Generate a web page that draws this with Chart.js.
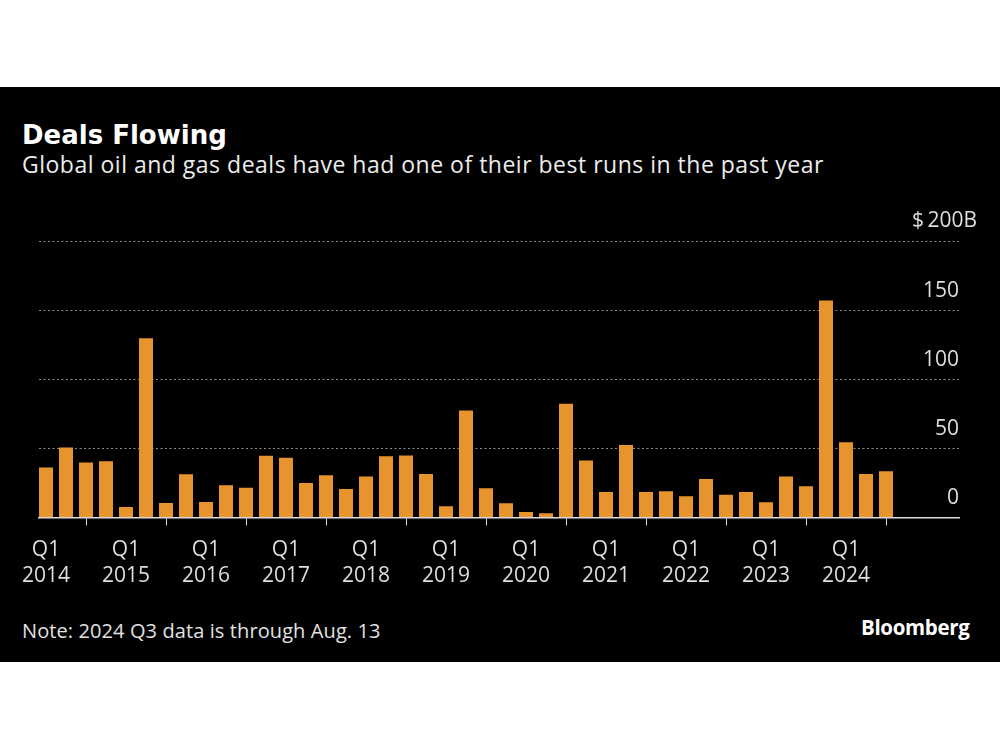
<!DOCTYPE html>
<html>
<head>
<meta charset="utf-8">
<script src="https://cdn.jsdelivr.net/npm/chart.js@4.4.1/dist/chart.umd.min.js"></script>
<style>
  html, body { margin:0; padding:0; background:#fff; width:1000px; height:750px; overflow:hidden; }
  #panel { position:absolute; left:0; top:87px; width:1000px; height:575px; background:#000; }
  .t { position:absolute; white-space:nowrap; line-height:1; }
  #title { left:22px; top:122px; font-family:"DejaVu Sans"; font-weight:bold; font-size:26px; color:#fff; }
  #sub { left:22px; top:153px; font-family:"Open Sans"; font-size:23px; letter-spacing:0.5px; color:#ececec; }
  #note { left:22px; top:620.5px; font-family:"Open Sans"; font-size:20px; letter-spacing:0.1px; color:#e2e2e2; }
  #logo { left:861px; top:617px; font-family:"Open Sans"; font-weight:bold; font-size:20.5px; color:#fff; letter-spacing:-0.35px; }
  #wrap { position:absolute; left:0; top:190px; width:1000px; height:420px; }
</style>
</head>
<body>
<div id="panel"></div>
<div class="t" id="title">Deals Flowing</div>
<div class="t" id="sub">Global oil and gas deals have had one of their best runs in the past year</div>
<div class="t" id="note">Note: 2024 Q3 data is through Aug. 13</div>
<div class="t" id="logo">Bloomberg</div>
<div id="wrap"><canvas id="c"></canvas></div>
<script>
// ---- data ----
const quarters = [
  "Q1 2014","Q2 2014","Q3 2014","Q4 2014",
  "Q1 2015","Q2 2015","Q3 2015","Q4 2015",
  "Q1 2016","Q2 2016","Q3 2016","Q4 2016",
  "Q1 2017","Q2 2017","Q3 2017","Q4 2017",
  "Q1 2018","Q2 2018","Q3 2018","Q4 2018",
  "Q1 2019","Q2 2019","Q3 2019","Q4 2019",
  "Q1 2020","Q2 2020","Q3 2020","Q4 2020",
  "Q1 2021","Q2 2021","Q3 2021","Q4 2021",
  "Q1 2022","Q2 2022","Q3 2022","Q4 2022",
  "Q1 2023","Q2 2023","Q3 2023","Q4 2023",
  "Q1 2024","Q2 2024","Q3 2024"
];
const dealValueBn = [
  36.1, 50.6, 39.7, 40.7,
  7.6, 129.6, 10.5, 31.3,
  11.2, 23.3, 21.6, 44.6,
  43.3, 25.0, 30.6, 20.7,
  29.6, 44.3, 44.8, 31.5,
  8.1, 77.4, 21.2, 10.3,
  4.0, 3.0, 82.2, 41.2,
  18.5, 52.5, 18.5, 19.0,
  15.3, 27.9, 16.5, 18.5,
  11.0, 29.6, 22.6, 156.9,
  54.5, 31.5, 33.5
];
const yTickValues = [0, 50, 100, 150, 200];
const yTopLabel = "$\u2009200B";

// ---- chart ----
const xTickIndices = quarters.map((q, i) => q.startsWith("Q1") ? i : -1).filter(i => i >= 0);
const points = dealValueBn.map((v, i) => ({ x: i, y: v }));
const labelFont = { family: "Open Sans", size: 21, lineHeight: 26 / 21 };
const labelColor = "#dedede";

new Chart(document.getElementById("c"), {
  type: "bar",
  data: {
    datasets: [{
      data: points,
      backgroundColor: "#E8942E",
      borderWidth: 0,
      barPercentage: 0.7,
      categoryPercentage: 1.0
    }]
  },
  options: {
    responsive: true,
    maintainAspectRatio: false,
    animation: false,
    events: [],
    layout: { padding: { left: 39, right: 41, top: 51, bottom: 0 } },
    plugins: { legend: { display: false }, tooltip: { enabled: false } },
    scales: {
      x: {
        type: "linear",
        position: "bottom",
        min: -0.35,
        max: 45.65,
        offset: false,
        afterBuildTicks: s => { s.ticks = xTickIndices.map(v => ({ value: v })); },
        afterFit: s => { s.height = 92.5; },
        ticks: {
          autoSkip: false,
          maxRotation: 0,
          padding: 11.5,
          color: labelColor,
          font: labelFont,
          callback: v => quarters[v] ? quarters[v].split(" ") : ""
        },
        grid: {
          display: true,
          drawOnChartArea: false,
          drawTicks: true,
          tickLength: 8,
          tickColor: "#d8d8d8",
          tickWidth: 1
        },
        border: { display: true, color: "#dcdcdc", width: 1.5 }
      },
      y: {
        type: "linear",
        position: "right",
        min: 0,
        max: 200,
        afterBuildTicks: s => { s.ticks = yTickValues.map(v => ({ value: v })); },
        afterFit: s => { s.width = 0; },
        ticks: {
          mirror: true,
          padding: 0,
          labelOffset: -19.5,
          color: labelColor,
          font: labelFont,
          callback: v => v === 200 ? "" : String(v)
        },
        grid: {
          drawTicks: false,
          lineWidth: 1,
          color: ctx => ctx.tick && ctx.tick.value === 0 ? "rgba(0,0,0,0)" : "#8c8c8c"
        },
        border: { display: false, dash: [2, 2.5] }
      },
      y2: {
        type: "linear",
        position: "right",
        min: 0,
        max: 200,
        afterBuildTicks: s => { s.ticks = yTickValues.map(v => ({ value: v })); },
        afterFit: s => { s.width = 0; },
        ticks: {
          mirror: true,
          padding: 18,
          labelOffset: -20,
          color: labelColor,
          font: labelFont,
          callback: v => v === 200 ? yTopLabel : ""
        },
        grid: { display: false },
        border: { display: false }
      }
    }
  }
});
</script>
</body>
</html>
